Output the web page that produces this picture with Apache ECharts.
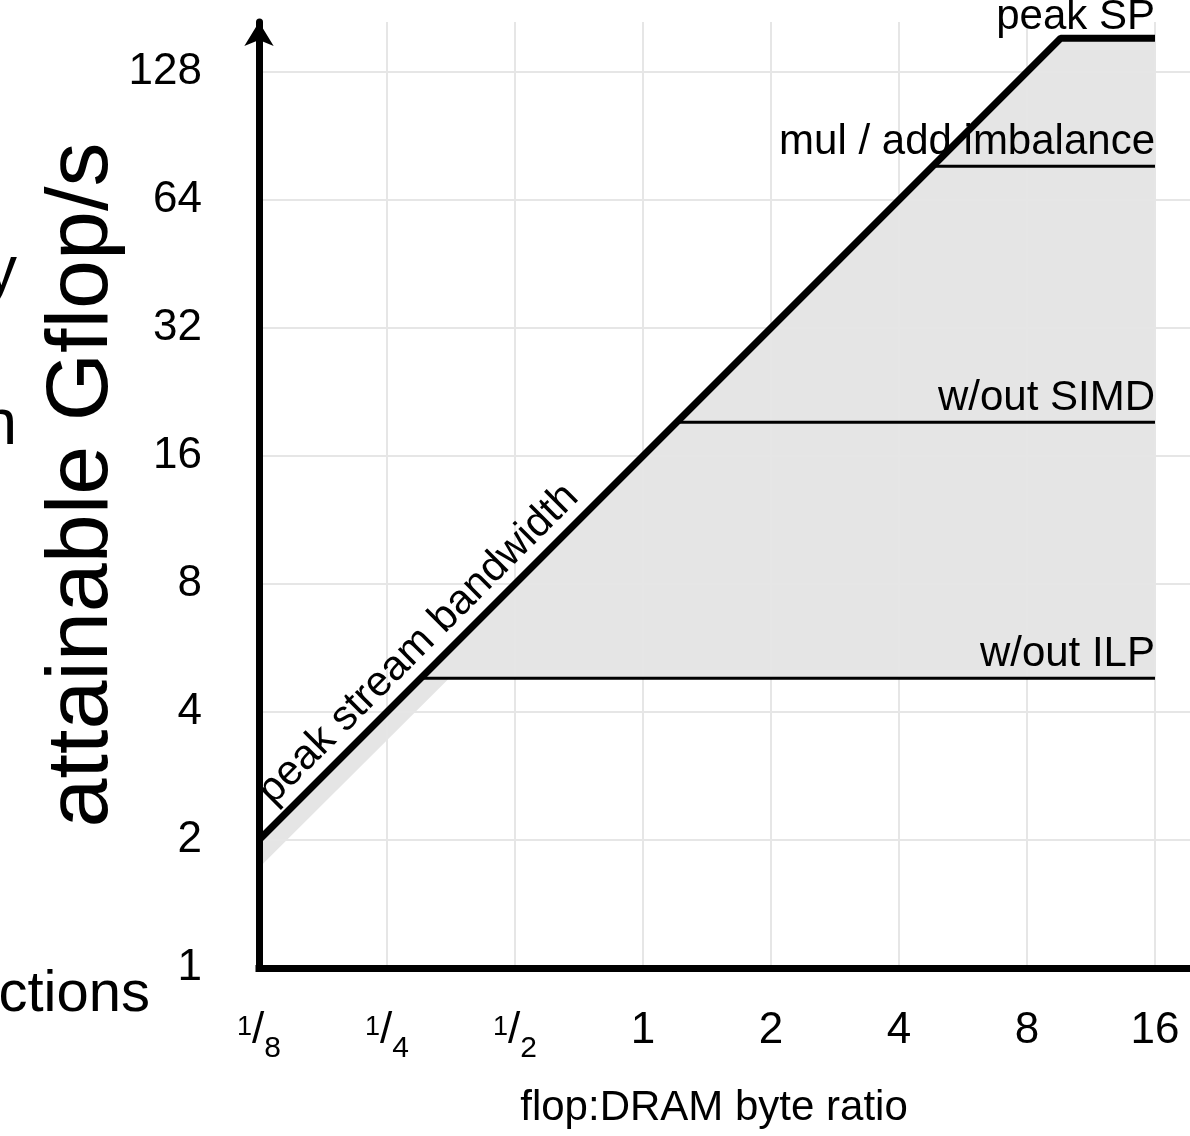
<!DOCTYPE html>
<html><head><meta charset="utf-8">
<script src="https://cdn.jsdelivr.net/npm/echarts@6/dist/echarts.min.js"></script>
<style>html,body{margin:0;padding:0;background:#fff}#c{width:1190px;height:1136px}</style>
</head><body><div id="c"></div>
<script>
// ---- data ----
const xTickValues = [0.125, 0.25, 0.5, 1, 2, 4, 8, 16];
const xTickLabels = ['{n|1}{s|/}{d|8}', '{n|1}{s|/}{d|4}', '{n|1}{s|/}{d|2}', '1', '2', '4', '8', '16'];
const yTickValues = [1, 2, 4, 8, 16, 32, 64, 128];
const yTickLabels = ['1', '2', '4', '8', '16', '32', '64', '128'];
const xExtent = [0.125, 19.34];
const yExtent = [1, 167.8];
const roofline = [[0.125, 2], [9.6, 153.6], [16, 153.6]];
const mulAddCeiling = [[4.8, 76.8], [16, 76.8]];
const simdCeiling = [[1.2, 19.2], [16, 19.2]];
const ilpCeiling = [[0.3, 4.8], [16, 4.8]];
const shadedRegion = [[0.125, 2], [9.6, 153.6], [16, 153.6], [16, 4.8], [0.35, 4.8], [0.125, 1.72]];
const ceilingNames = ['peak SP', 'mul / add imbalance', 'w/out SIMD', 'w/out ILP'];
const bandwidthName = 'peak stream bandwidth';
const xTitle = 'flop:DRAM byte ratio';
const yTitle = 'attainable Gflop/s';
const clippedTexts = ['y', 'n', 'ctions'];

// ---- chart ----
const FONT = '"Liberation Sans", Arial, Helvetica, sans-serif';
function pick(values, labels, v) {
  const i = values.findIndex(t => Math.abs(t - v) / t < 1e-6);
  return i < 0 ? '' : labels[i];
}
function endLabel(text, dist) {
  return { show: true, formatter: text, position: 'top', align: 'right', distance: dist,
           color: '#000', fontSize: 42, fontFamily: FONT };
}
function withEndLabel(points, text) {
  return points.map((p, i) => i === points.length - 1 ? { value: p, label: endLabel(text, 2) } : p);
}
function lineSeries(data, width, z) {
  return {
    type: 'line', data: data, z: z || 3, symbol: 'circle', symbolSize: 1, showSymbol: true,
    itemStyle: { color: 'rgba(0,0,0,0)' }, lineStyle: { color: '#000', width: width },
    label: { show: false }, animation: false, silent: true
  };
}
const rooflineData = roofline.map((p, i) => {
  if (i === 0) return { value: p, label: { show: true, formatter: bandwidthName, rotate: 45,
      position: [21, -27], align: 'left', verticalAlign: 'bottom', color: '#000', fontSize: 42, fontFamily: FONT } };
  if (i === roofline.length - 1) return { value: p, label: endLabel(ceilingNames[0], -1) };
  return p;
});

const chart = echarts.init(document.getElementById('c'), null, { renderer: 'canvas' });
chart.setOption({
  animation: false,
  backgroundColor: '#fff',
  textStyle: { fontFamily: FONT },
  grid: { left: 259, right: 0, top: 22, bottom: 168, containLabel: false },
  xAxis: {
    type: 'log', logBase: 2, min: xExtent[0], max: xExtent[1],
    name: xTitle, nameLocation: 'middle', nameGap: 119, nameMoveOverlap: false,
    nameTextStyle: { fontSize: 42, color: '#000', fontFamily: FONT, padding: [0, 21, 0, 0] },
    axisLine: { show: true, symbol: ['none', 'none'], lineStyle: { color: '#000', width: 7, cap: 'square' } },
    axisTick: { show: false },
    splitLine: { show: true, showMinLine: false, showMaxLine: false, lineStyle: { color: '#e6e6e6', width: 2 } },
    axisLabel: {
      interval: 0, showMinLabel: true, showMaxLabel: false, margin: 30,
      fontSize: 44, lineHeight: 66, color: '#000', fontFamily: FONT,
      formatter: v => pick(xTickValues, xTickLabels, v),
      rich: {
        n: { fontSize: 27, lineHeight: 62, verticalAlign: 'top', padding: [16, 0, 0, 0], color: '#000', fontFamily: FONT },
        s: { fontSize: 44, lineHeight: 66, verticalAlign: 'middle', color: '#000', fontFamily: FONT },
        d: { fontSize: 30, lineHeight: 16, verticalAlign: 'bottom', color: '#000', fontFamily: FONT }
      }
    }
  },
  yAxis: {
    type: 'log', logBase: 2, min: yExtent[0], max: yExtent[1],
    name: yTitle, nameLocation: 'middle', nameGap: 132, nameRotate: 90, nameMoveOverlap: false,
    nameTextStyle: { fontSize: 88, color: '#000', fontFamily: FONT, padding: [0, 0, 0, 20] },
    axisLine: { show: true, symbol: ['none', 'arrow'], symbolSize: [22, 24], lineStyle: { color: '#000', width: 7 } },
    axisTick: { show: false },
    splitLine: { show: true, showMinLine: false, showMaxLine: false, lineStyle: { color: '#e6e6e6', width: 2 } },
    axisLabel: {
      showMinLabel: true, showMaxLabel: false, margin: 57,
      fontSize: 44, color: '#000', fontFamily: FONT,
      formatter: v => pick(yTickValues, yTickLabels, v)
    }
  },
  graphic: [
    { type: 'text', x: 17, y: 273, silent: true, style: { text: clippedTexts[0], fontSize: 64, fontFamily: FONT, fill: '#000', align: 'right', verticalAlign: 'middle' } },
    { type: 'text', x: 17, y: 426, silent: true, style: { text: clippedTexts[1], fontSize: 64, fontFamily: FONT, fill: '#000', align: 'right', verticalAlign: 'middle' } },
    { type: 'text', x: 150, y: 995, silent: true, style: { text: clippedTexts[2], fontSize: 58, fontFamily: FONT, fill: '#000', align: 'right', verticalAlign: 'middle' } }
  ],
  series: [
    {
      type: 'custom', coordinateSystem: 'cartesian2d', z: -1, silent: true, animation: false,
      data: [shadedRegion[0]],
      renderItem: (params, api) => ({
        type: 'polygon',
        shape: { points: shadedRegion.map(p => api.coord(p)) },
        style: { fill: '#e5e5e5' }
      })
    },
    lineSeries(withEndLabel(ilpCeiling, ceilingNames[3]), 3),
    lineSeries(withEndLabel(simdCeiling, ceilingNames[2]), 3),
    lineSeries(withEndLabel(mulAddCeiling, ceilingNames[1]), 3),
    lineSeries(rooflineData, 7, 4)
  ]
});
</script>
</body></html>
